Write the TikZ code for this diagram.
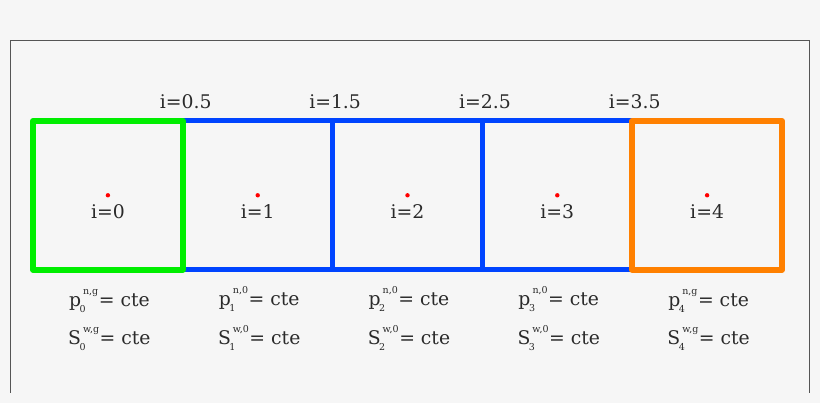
\documentclass[tikz,border=0pt]{standalone}
\usepackage{fontspec}
\setmainfont{DejaVu Serif}
\usetikzlibrary{positioning}

\definecolor{bggray}{HTML}{F6F6F6}
\definecolor{framegray}{HTML}{555555}
\definecolor{cellgreen}{HTML}{00EE00}
\definecolor{cellblue}{HTML}{0044FF}
\definecolor{cellorange}{HTML}{FF8000}
\definecolor{txtgray}{HTML}{2A2A2A}

\newcommand{\idxfont}{\fontsize{9.5}{10}\selectfont}
\newcommand{\cellvar}[3]{#1\kern-1.5pt\rlap{\raisebox{-6pt}{\idxfont #2}}\kern3.5pt\raisebox{12pt}{\idxfont #3}\kern0.5pt}

\tikzset{
  cell/.style={draw, line width=6pt, line join=round, minimum width=149.8pt, minimum height=148.7pt, inner sep=0pt},
  inner cell/.style={cell, line width=5pt},
  lab/.style={text=txtgray, font=\fontsize{18.8}{22}\selectfont, inner sep=0pt, anchor=base},
}

\begin{document}
\begin{tikzpicture}[x=1pt,y=-1pt]

	% background and frame
	\fill[bggray] (0,0) rectangle (820,403);
	\useasboundingbox (0,0) rectangle (820,403);
	\draw[framegray, line width=1pt] (10.3,393) -- (10.3,40.7) -- (809.3,40.7) -- (809.3,393);

	% inner cells
	\node[inner cell, draw=cellblue] (c1) at (257.7,195.3) {};
	\node[inner cell, draw=cellblue] (c2) at (407.5,195.3) {};
	\node[inner cell, draw=cellblue] (c3) at (557.3,195.3) {};

	% boundary cells
	\node[cell, draw=cellgreen] (c0) at (107.9,195.3) {};
	\node[cell, draw=cellorange] (c4) at (707.1,195.3) {};

	% cell centres
	\fill[red] (c0.center) circle (2.2pt);
	\fill[red] (c1.center) circle (2.2pt);
	\fill[red] (c2.center) circle (2.2pt);
	\fill[red] (c3.center) circle (2.2pt);
	\fill[red] (c4.center) circle (2.2pt);
	\node[lab] (i0) at ([yshift=-23pt]c0.center) {i=0};
	\node[lab] (i1) at ([yshift=-23pt]c1.center) {i=1};
	\node[lab] (i2) at ([yshift=-23pt]c2.center) {i=2};
	\node[lab] (i3) at ([yshift=-23pt]c3.center) {i=3};
	\node[lab] (i4) at ([yshift=-23pt]c4.center) {i=4};

	% faces
	\node[lab] (f0) at ([yshift=9.5pt]c0.north east) {i=0.5};
	\node[lab] (f1) at ([yshift=9.5pt]c1.north east) {i=1.5};
	\node[lab] (f2) at ([yshift=9.5pt]c2.north east) {i=2.5};
	\node[lab] (f3) at ([yshift=9.5pt]c3.north east) {i=3.5};

	% conditions
	\node[lab] (p0) at ([xshift=1.5pt,yshift=-33.6pt]c0.south) {\cellvar{p}{0}{n,g}= cte};
	\node[lab] (s0) at ([xshift=1.5pt,yshift=-72pt]c0.south) {\cellvar{S}{0}{w,g}= cte};
	\node[lab] (p1) at ([xshift=1.5pt,yshift=-33.6pt]c1.south) {\cellvar{p}{1}{n,0}= cte};
	\node[lab] (s1) at ([xshift=1.5pt,yshift=-72pt]c1.south) {\cellvar{S}{1}{w,0}= cte};
	\node[lab] (p2) at ([xshift=1.5pt,yshift=-33.6pt]c2.south) {\cellvar{p}{2}{n,0}= cte};
	\node[lab] (s2) at ([xshift=1.5pt,yshift=-72pt]c2.south) {\cellvar{S}{2}{w,0}= cte};
	\node[lab] (p3) at ([xshift=1.5pt,yshift=-33.6pt]c3.south) {\cellvar{p}{3}{n,0}= cte};
	\node[lab] (s3) at ([xshift=1.5pt,yshift=-72pt]c3.south) {\cellvar{S}{3}{w,0}= cte};
	\node[lab] (p4) at ([xshift=1.5pt,yshift=-33.6pt]c4.south) {\cellvar{p}{4}{n,g}= cte};
	\node[lab] (s4) at ([xshift=1.5pt,yshift=-72pt]c4.south) {\cellvar{S}{4}{w,g}= cte};

\end{tikzpicture}
\end{document}
